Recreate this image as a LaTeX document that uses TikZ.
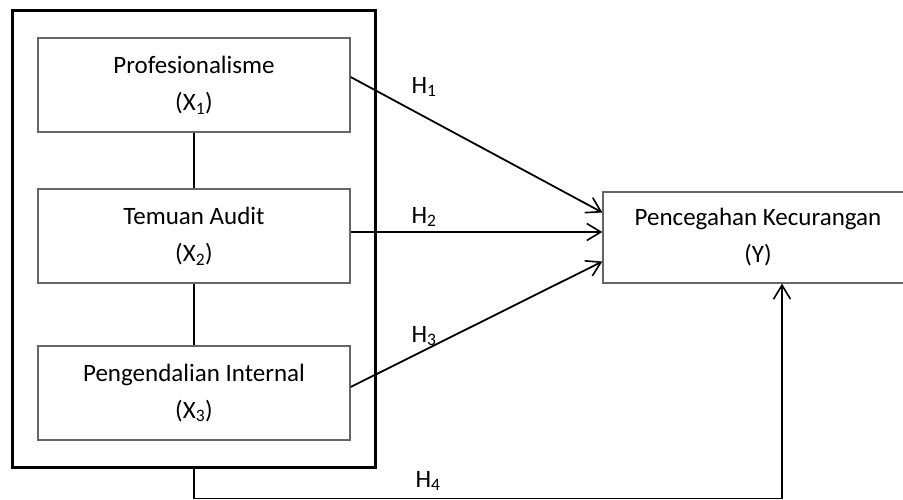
\documentclass[tikz,border=0pt]{standalone}
\usepackage{fontspec}
\setmainfont{Carlito}
\usetikzlibrary{arrows.meta}
\usetikzlibrary{fit}

\begin{document}
\begin{tikzpicture}[x=1pt,y=-1pt,font=\fontsize{25}{37}\selectfont,
        var/.style={draw=black!60,line width=1.3pt,minimum width=312pt,minimum height=94pt,align=center,inner sep=0pt},
        frame/.style={draw,line width=2.5pt,inner xsep=25pt,inner ysep=27pt},
        link/.style={line width=1.8pt},
        hyp/.style={line width=1.8pt,-{Straight Barb[length=14pt,width=17pt,line width=1.6pt]}}]
        \useasboundingbox (0,0) rectangle (903,499);
        \node[var] (prof) at (194,85) {Profesionalisme\\(X\textsubscript{1})};
        \node[var] (temu) at (194,236) {Temuan Audit\\(X\textsubscript{2})};
        \node[var] (peng) at (194,393) {Pengendalian Internal\\(X\textsubscript{3})};
        \node[frame,fit=(prof)(temu)(peng)] (frame) {};
        \node[var,minimum width=310pt,minimum height=91pt] (pcg) at (758,237.5) {Pencegahan Kecurangan\\(Y)};
        \draw[link] (prof) -- (temu);
        \draw[link] (temu) -- (peng);
        \draw[hyp] ([yshift=8pt]prof.east) -- ([yshift=25pt]pcg.west);
        \draw[hyp] ([yshift=4pt]temu.east) -- ([yshift=4pt]temu.east -| pcg.west);
        \draw[hyp] ([yshift=6pt]peng.east) -- ([yshift=-24pt]pcg.west);
        \draw[hyp] (frame.south) -- ++(0,29.5) -| ([xshift=24pt]pcg.south);
        \node[anchor=base west] (h1) at (408,93) {H\textsubscript{1}};
        \node[anchor=base west] (h2) at (408,223) {H\textsubscript{2}};
        \node[anchor=base west] (h3) at (408,342) {H\textsubscript{3}};
        \node[anchor=base west] (h4) at (412,487) {H\textsubscript{4}};
\end{tikzpicture}
\end{document}
